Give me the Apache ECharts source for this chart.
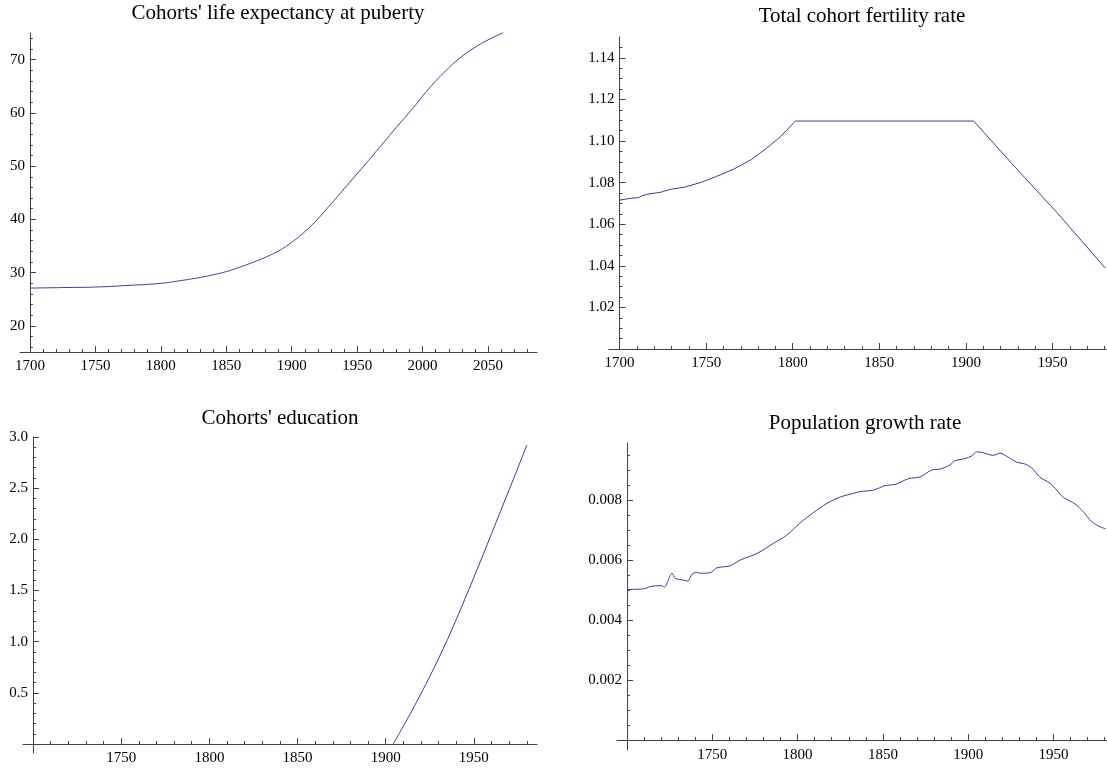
<!DOCTYPE html>
<html>
<head>
<meta charset="utf-8">
<script src="https://cdn.jsdelivr.net/npm/echarts@6/dist/echarts.min.js"></script>
<style>
html, body { margin: 0; padding: 0; background: #fff; }
#chart { width: 1107px; height: 772px; }
</style>
</head>
<body>
<div id="chart"></div>
<script>
// values
const lifeYears = [1700, 1725, 1750, 1775, 1800, 1815, 1830, 1840, 1850, 1860, 1870, 1880, 1890, 1900, 1910, 1920, 1930, 1942, 1955, 1967, 1980, 1993, 2005, 2018, 2030, 2040, 2050, 2062]
const lifeValues = [27.1, 27.2, 27.3, 27.6, 28.0, 28.5, 29.1, 29.6, 30.2, 31.0, 31.9, 32.9, 34.1, 35.7, 37.7, 40.1, 42.9, 46.3, 50.0, 53.5, 57.3, 61.0, 64.6, 68.0, 70.6, 72.3, 73.7, 75.1]

const fertYears = [1700, 1706, 1711, 1713, 1716, 1724, 1729, 1738, 1747, 1756, 1766, 1776, 1785, 1793, 1801.5, 1904.5, 1928, 1953, 1980.5]
const fertValues = [1.0716, 1.0724, 1.0728, 1.0737, 1.0744, 1.0754, 1.0767, 1.0779, 1.0801, 1.0830, 1.0865, 1.0910, 1.0966, 1.1021, 1.1096, 1.1096, 1.0878, 1.0652, 1.0389]

const eduYears = [1904.3, 1915, 1925, 1935, 1945, 1955, 1965, 1975, 1980]
const eduValues = [0, 0.33, 0.66, 1.02, 1.42, 1.84, 2.27, 2.70, 2.92]

const popYears = [1700, 1709.7, 1714.6, 1720.5, 1721.9, 1723.8, 1726.4, 1728.3, 1733.2, 1735.5, 1738.1, 1740.6, 1742.9, 1748.8, 1752.7, 1760.5, 1766.4, 1776.2, 1785.9, 1793.7, 1801.5, 1809.3, 1817.2, 1825, 1832.7, 1836.7, 1844.5, 1851.3, 1857.2, 1864.9, 1871.8, 1878.6, 1883.5, 1889.4, 1892.3, 1898.2, 1902.1, 1905, 1908.9, 1914.8, 1918.7, 1923.6, 1928.5, 1933.3, 1937.3, 1942.1, 1948, 1951.9, 1955.8, 1962.6, 1967.5, 1972.4, 1977.3, 1980.5]
const popValues = [0.00502, 0.00504, 0.00513, 0.005145, 0.00509, 0.00528, 0.00556, 0.00539, 0.00533, 0.00530, 0.00553, 0.00559, 0.00556, 0.00558, 0.00574, 0.00581, 0.00600, 0.00622, 0.00656, 0.00683, 0.00724, 0.00758, 0.00789, 0.00810, 0.00822, 0.00828, 0.00833, 0.00848, 0.00852, 0.00871, 0.00877, 0.00900, 0.00903, 0.00917, 0.00931, 0.00938, 0.00947, 0.00961, 0.00957, 0.00949, 0.00956, 0.00942, 0.00926, 0.00920, 0.00907, 0.00876, 0.00856, 0.00833, 0.00809, 0.00787, 0.00761, 0.00728, 0.00711, 0.00704]

// tick labels
const lifeXTicks = [1700, 1750, 1800, 1850, 1900, 1950, 2000, 2050]
const lifeYTicks = [20, 30, 40, 50, 60, 70]
const fertXTicks = [1700, 1750, 1800, 1850, 1900, 1950]
const fertYTicks = [1.02, 1.04, 1.06, 1.08, 1.10, 1.12, 1.14]
const eduXTicks = [1750, 1800, 1850, 1900, 1950]
const eduYTicks = [0.5, 1.0, 1.5, 2.0, 2.5, 3.0]
const popXTicks = [1750, 1800, 1850, 1900, 1950]
const popYTicks = [0.002, 0.004, 0.006, 0.008]

const lineColor = '#3d3d99'
const axisColor = '#444'
const font = '"Liberation Serif", "Times New Roman", serif'

// evenly spaced minor tick positions
const ticksFrom = (start, end, step) => {
    const out = []
    const n = Math.round((end - start) / step)
    for (let i = 0; i <= n; i++) out.push(+(start + i * step).toFixed(6))
    return out
}
const zip = (xs, ys) => xs.map((x, i) => [x, ys[i]])

const panels = [
    {
        title: "Cohorts' life expectancy at puberty", titleX: 278, titleY: 13,
        left: 20, top: 33, width: 517, height: 319,
        xMin: 1692.4, xMax: 2087.4, yMin: 15.1, yMax: 75.0,
        xTicks: lifeXTicks, xMinor: ticksFrom(1710, 2080, 10),
        yTicks: lifeYTicks, yMinor: ticksFrom(16, 74, 2), yDigits: 0,
        data: zip(lifeYears, lifeValues), smooth: 0.5
    },
    {
        title: 'Total cohort fertility rate', titleX: 862, titleY: 16,
        left: 609, top: 37, width: 497, height: 312,
        xMin: 1693.9, xMax: 1980.9, yMin: 1.0, yMax: 1.15,
        xTicks: fertXTicks, xMinor: ticksFrom(1710, 1980, 10),
        yTicks: fertYTicks, yMinor: ticksFrom(1.005, 1.145, 0.005), yDigits: 2,
        data: zip(fertYears, fertValues), smooth: false
    },
    {
        title: "Cohorts' education", titleX: 280, titleY: 418,
        left: 23, top: 437, width: 514, height: 316,
        xMin: 1694.3, xMax: 1985.8, yMin: -0.088, yMax: 3.0,
        xTicks: eduXTicks, xMinor: ticksFrom(1710, 1980, 10),
        yTicks: eduYTicks, yMinor: ticksFrom(0.1, 3.0, 0.1), yDigits: 1,
        data: zip(eduYears, eduValues), smooth: 0.3
    },
    {
        title: 'Population growth rate', titleX: 865, titleY: 423,
        left: 617, top: 443, width: 490, height: 307,
        xMin: 1694.1, xMax: 1981.4, yMin: -0.00033, yMax: 0.0099,
        xTicks: popXTicks, xMinor: ticksFrom(1710, 1980, 10),
        yTicks: popYTicks, yMinor: ticksFrom(0.0005, 0.0095, 0.0005), yDigits: 3,
        data: zip(popYears, popValues), smooth: 0.3
    }
]

const tickLine = { color: axisColor, width: 1 }
const labelStyle = { fontFamily: font, fontSize: 15, color: '#000' }

const grid = [], xAxis = [], yAxis = [], series = [], title = []
panels.forEach((p, i) => {
    grid.push({ left: p.left, top: p.top, width: p.width, height: p.height, outerBoundsMode: 'none' })
    title.push({
        text: p.title, left: p.titleX, top: p.titleY, textAlign: 'center', textVerticalAlign: 'middle', padding: 0,
        textStyle: { fontFamily: font, fontSize: 21, fontWeight: 'normal', color: '#000' }
    })
    // y axis crosses the x axis at 1700
    const yOffset = -(1700 - p.xMin) / (p.xMax - p.xMin) * p.width
    // labels stay at the grid edge when the x axis sits on zero, pull them back up
    const zeroGap = p.yMin < 0 ? (0 - p.yMin) / (p.yMax - p.yMin) * p.height : 0
    xAxis.push({
        gridIndex: i, type: 'value', min: p.xMin, max: p.xMax, position: 'bottom',
        axisLine: { show: true, onZero: true, lineStyle: tickLine },
        axisTick: { show: true, inside: true, length: 6, customValues: p.xTicks, lineStyle: tickLine },
        axisLabel: { customValues: p.xTicks, margin: 7 - zeroGap, formatter: v => String(Math.round(v)), ...labelStyle },
        splitLine: { show: false }
    }, {
        gridIndex: i, type: 'value', min: p.xMin, max: p.xMax, position: 'bottom',
        axisLine: { show: false, onZero: true },
        axisTick: { show: true, inside: true, length: 3, customValues: p.xMinor, lineStyle: tickLine },
        axisLabel: { show: false },
        splitLine: { show: false }
    })
    yAxis.push({
        gridIndex: i, type: 'value', min: p.yMin, max: p.yMax, position: 'left', offset: yOffset,
        axisLine: { show: true, onZero: false, lineStyle: tickLine },
        axisTick: { show: true, inside: true, length: 6, customValues: p.yTicks, lineStyle: tickLine },
        axisLabel: { customValues: p.yTicks, margin: 5, formatter: v => v.toFixed(p.yDigits), ...labelStyle },
        splitLine: { show: false }
    }, {
        gridIndex: i, type: 'value', min: p.yMin, max: p.yMax, position: 'left', offset: yOffset,
        axisLine: { show: false, onZero: false },
        axisTick: { show: true, inside: true, length: 3, customValues: p.yMinor, lineStyle: tickLine },
        axisLabel: { show: false },
        splitLine: { show: false }
    })
    series.push({
        type: 'line', xAxisIndex: 2 * i, yAxisIndex: 2 * i, data: p.data,
        symbol: 'none', smooth: p.smooth, clip: true,
        lineStyle: { color: lineColor, width: 1 }
    })
})

const chart = echarts.init(document.getElementById('chart'))
chart.setOption({ animation: false, backgroundColor: '#fff', title, grid, xAxis, yAxis, series })
</script>
</body>
</html>
